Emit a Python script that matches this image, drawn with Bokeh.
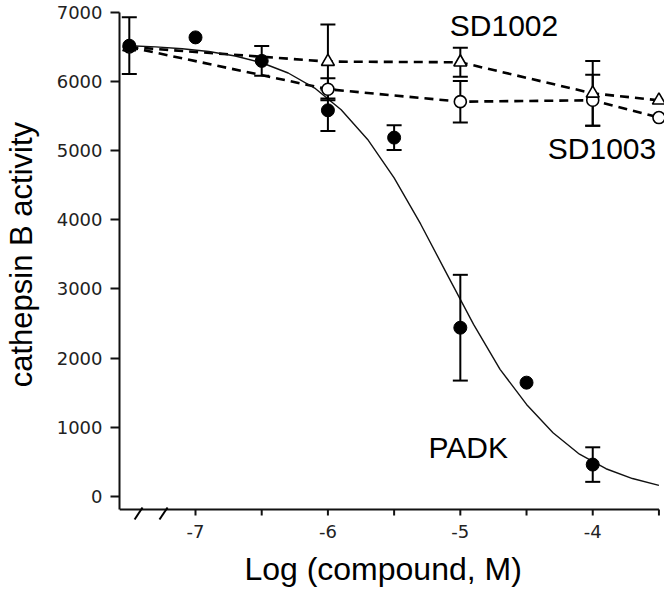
import math
from bokeh.plotting import figure
from bokeh.models import Range1d, FixedTicker, Label
from bokeh.embed import file_html
from bokeh.resources import INLINE

# ---- data ----
padk_x = [-7.5, -7.0, -6.5, -6.0, -5.5, -5.0, -4.5, -4.0]
padk_y = [6520, 6640, 6300, 5585, 5190, 2440, 1645, 460]
padk_err = [410, 0, 215, 300, 180, 765, 0, 250]

sd_x = [-7.5, -6.0, -5.0, -4.0, -3.5]
sd1002_y = [6500, 6290, 6280, 5830, 5730]
sd1002_err = [0, 535, 210, 470, 0]
sd1003_y = [6500, 5890, 5710, 5730, 5480]
sd1003_err = [0, 160, 300, 370, 0]

fit_x = [-7.5, -7.3, -7.1, -6.9, -6.7, -6.5, -6.3, -6.1, -5.9, -5.7, -5.5,
         -5.3, -5.1, -4.9, -4.7, -4.5, -4.3, -4.1, -3.9, -3.7, -3.5]
fit_y = [6520, 6503, 6476, 6435, 6371, 6273, 6125, 5907, 5593, 5164, 4607,
         3941, 3212, 2489, 1838, 1330, 920, 610, 400, 258, 160]

x_ticks = [-7, -6, -5, -4]
x_tick_labels = ["-7", "-6", "-5", "-4"]
x_minor = [-6.5, -5.5, -4.5, -3.5]
y_ticks = [0, 1000, 2000, 3000, 4000, 5000, 6000, 7000]

x_title = "Log (compound, M)"
y_title = "cathepsin B activity"
labels = [("SD1002", -4.67, 6640), ("SD1003", -3.93, 4864), ("PADK", -4.94, 534)]

# axis extents (x axis crosses at y = Y_AXIS); axis-break slashes
X_LO, X_HI = -7.574, -3.5
Y_AXIS, Y_HI = -190, 7000
break_x0 = [-7.46, -7.272]
break_x1 = [-7.40, -7.211]
break_y0, break_y1 = -334, -161

FONT = "Liberation Sans"
TICKFONT = "DejaVu Sans"
INK = "#111111"
NBSP = "\u00a0"

p = figure(width=664, height=593, x_range=Range1d(X_LO, -3.458),
           y_range=Range1d(-378, Y_HI), output_backend="svg",
           toolbar_location=None, min_border_left=119, min_border_right=0,
           min_border_top=12, min_border_bottom=71)
p.grid.visible = False
p.outline_line_color = None
p.background_fill_color = "white"
p.border_fill_color = "white"

for ax in (p.xaxis[0], p.yaxis[0]):
    ax.major_label_text_font = TICKFONT
    ax.major_label_text_font_size = "18px"
    ax.major_label_text_color = "#222222"
    ax.axis_label_text_font = FONT
    ax.axis_label_text_font_style = "normal"
    ax.axis_label_text_color = "black"

# y axis (line limited to the data extent)
p.yaxis.ticker = FixedTicker(ticks=y_ticks, minor_ticks=[])
p.yaxis.bounds = (Y_AXIS, Y_HI)
p.yaxis.axis_line_width = 2
p.yaxis.axis_line_color = INK
p.yaxis.major_tick_line_width = 2
p.yaxis.major_tick_line_color = INK
p.yaxis.major_tick_in = 0
p.yaxis.major_tick_out = 9
p.yaxis.major_label_standoff = 8
p.yaxis.axis_label = NBSP * 3 + y_title
p.yaxis.axis_label_text_font_size = "31px"
p.yaxis.axis_label_standoff = 15

# x axis: labels from Bokeh's axis, line and ticks drawn at y = Y_AXIS
p.xaxis.ticker = FixedTicker(ticks=x_ticks, minor_ticks=x_minor)
p.xaxis.major_label_overrides = {t: l for t, l in zip(x_ticks, x_tick_labels)}
p.xaxis.axis_line_color = None
p.xaxis.major_tick_line_color = None
p.xaxis.minor_tick_line_color = None
p.xaxis.major_tick_in = 0
p.xaxis.major_tick_out = 0
p.xaxis.minor_tick_in = 0
p.xaxis.minor_tick_out = 0
p.xaxis.major_label_standoff = 2
p.xaxis.axis_label = x_title + NBSP * 2
p.xaxis.axis_label_text_font_size = "32px"
p.xaxis.axis_label_standoff = 10

p.segment([X_LO], [Y_AXIS], [X_HI], [Y_AXIS], line_color=INK, line_width=2)
all_xt = x_ticks + x_minor
p.ray(all_xt, [Y_AXIS] * len(all_xt), length=6, length_units="screen",
      angle=-math.pi / 2, line_color=INK, line_width=2)
p.segment(break_x0, [break_y0] * 2, break_x1, [break_y1] * 2,
          line_color="black", line_width=2)

# dashed SD lines
p.line(sd_x, sd1002_y, line_color="black", line_width=2.6, line_dash="9 6")
p.line(sd_x, sd1003_y, line_color="black", line_width=2.6, line_dash="9 6")

# fitted curve for PADK
p.line(fit_x, fit_y, line_color="#111111", line_width=1.4)

# error bars
def errbars(xs, ys, es):
    bx, lo, hi = [], [], []
    for x, y, e in zip(xs, ys, es):
        if e > 0:
            bx.append(x); lo.append(y - e); hi.append(y + e)
    p.segment(bx, lo, bx, hi, line_color="black", line_width=2)
    p.scatter(bx + bx, lo + hi, marker="dash", size=15, line_color="black",
              line_width=2)

errbars(padk_x, padk_y, padk_err)
errbars(sd_x, sd1002_y, sd1002_err)
errbars(sd_x, sd1003_y, sd1003_err)

# markers
p.scatter(sd_x, sd1003_y, marker="circle", size=12, fill_color="white",
          line_color="black", line_width=1.6)
p.scatter(sd_x, sd1002_y, marker="triangle", size=13, fill_color="white",
          line_color="black", line_width=1.6)
p.scatter(padk_x, padk_y, marker="circle", size=13, fill_color="black",
          line_color="black")

# text labels
for txt, x, y in labels:
    p.add_layout(Label(x=x, y=y, y_offset=12, text=txt, text_font=FONT,
                       text_font_size="30px", text_align="center",
                       text_baseline="alphabetic", text_color="black"))

open("out.html", "w").write(file_html(p, INLINE))
